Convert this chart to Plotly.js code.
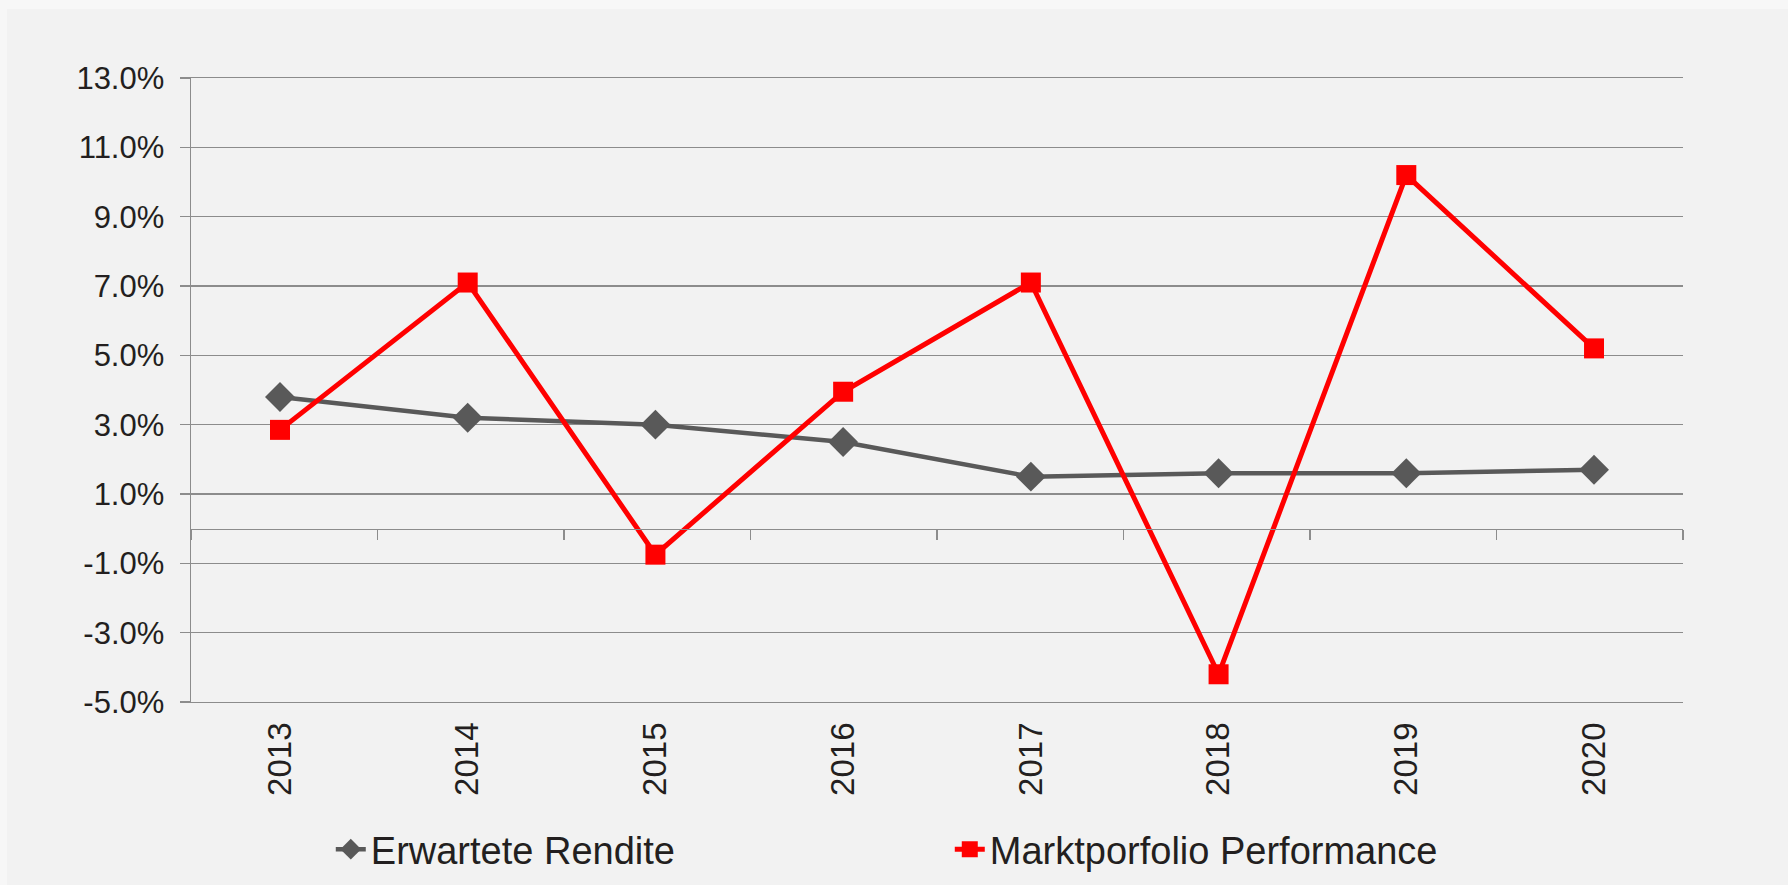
<!DOCTYPE html>
<html>
<head>
<meta charset="utf-8">
<script src="https://cdn.plot.ly/plotly-3.0.1.min.js"></script>
<style>
  html, body { margin: 0; padding: 0; background: #f2f2f2; }
  #chart { position: absolute; left: 0; top: 0; width: 1788px; height: 885px; }
  .edge { position: absolute; background: #f7f7f7; pointer-events: none; }
  .edge-top { left: 0; top: 0; width: 1788px; height: 9px; }
  .edge-left { left: 0; top: 0; width: 7px; height: 885px; }
</style>
</head>
<body>
<div id="chart"></div>
<div class="edge edge-top"></div>
<div class="edge edge-left"></div>
<script>
// Jahre und Renditen (in %)
const years = ['2013', '2014', '2015', '2016', '2017', '2018', '2019', '2020'];
const erwarteteRendite = [3.8, 3.2, 3.0, 2.5, 1.5, 1.6, 1.6, 1.7];
const marktportfolio = [2.85, 7.1, -0.75, 3.95, 7.1, -4.2, 10.2, 5.2];
const yRange = [-5, 13];
const yTicks = [-5, -3, -1, 1, 3, 5, 7, 9, 11, 13];
// plain hyphen as in the original, not the unicode minus
const yTickLabels = yTicks.map(v => v.toFixed(1) + '%');

const fontFamily = 'Liberation Sans, Arial, sans-serif';
const gridColor = '#8c8c8c';

const traceRendite = {
    x: years,
    y: erwarteteRendite,
    type: 'scatter',
    mode: 'lines+markers',
    name: 'Erwartete Rendite',
    line: { color: '#595959', width: 4.5 },
    marker: { symbol: 'diamond', size: 23, color: '#595959' }
};

const traceMarkt = {
    x: years,
    y: marktportfolio,
    type: 'scatter',
    mode: 'lines+markers',
    name: 'Marktporfolio Performance',
    line: { color: '#ff0000', width: 5 },
    marker: { symbol: 'square', size: 20, color: '#ff0000' }
};

// empty trace so the zero-line axis with boundary ticks gets drawn
const axisTrace = {
    x: [], y: [],
    type: 'scatter',
    xaxis: 'x2',
    showlegend: false,
    hoverinfo: 'skip'
};

const layout = {
    width: 1788,
    height: 885,
    margin: { l: 191, r: 105, t: 77.5, b: 183 },
    paper_bgcolor: '#f2f2f2',
    plot_bgcolor: '#f2f2f2',
    font: { family: fontFamily, size: 31, color: '#231f20' },
    showlegend: true,
    legend: {
        orientation: 'h',
        xref: 'container',
        yref: 'container',
        x: 0.185,
        xanchor: 'left',
        y: 0.0401,
        yanchor: 'middle',
        entrywidth: 574,
        font: { size: 38, family: fontFamily, color: '#231f20' },
        bgcolor: 'rgba(0,0,0,0)'
    },
    xaxis: {
        type: 'category',
        showgrid: false,
        zeroline: false,
        showline: true,
        mirror: true,
        linecolor: gridColor,
        linewidth: 1.3,
        ticks: '',
        tickangle: -90,
        ticklabelstandoff: 6,
        tickfont: { size: 33 }
    },
    xaxis2: {
        overlaying: 'x',
        anchor: 'free',
        position: (0 - yRange[0]) / (yRange[1] - yRange[0]),
        range: [-0.5, years.length - 0.5],
        tick0: -0.5,
        dtick: 1,
        showticklabels: false,
        showgrid: false,
        zeroline: false,
        showline: true,
        linecolor: gridColor,
        linewidth: 1.5,
        ticks: 'outside',
        ticklen: 10,
        tickwidth: 1.5,
        tickcolor: gridColor
    },
    yaxis: {
        range: yRange,
        tickmode: 'array',
        tickvals: yTicks,
        ticktext: yTickLabels,
        showgrid: true,
        gridcolor: gridColor,
        gridwidth: 1.3,
        zeroline: false,
        showline: true,
        linecolor: gridColor,
        linewidth: 1.5,
        ticks: 'outside',
        ticklen: 10,
        tickwidth: 1.5,
        tickcolor: gridColor,
        ticklabelstandoff: 9,
        tickfont: { size: 31 }
    }
};

Plotly.newPlot('chart', [traceRendite, traceMarkt, axisTrace], layout, {
    displayModeBar: false,
    staticPlot: true
});
</script>
</body>
</html>
